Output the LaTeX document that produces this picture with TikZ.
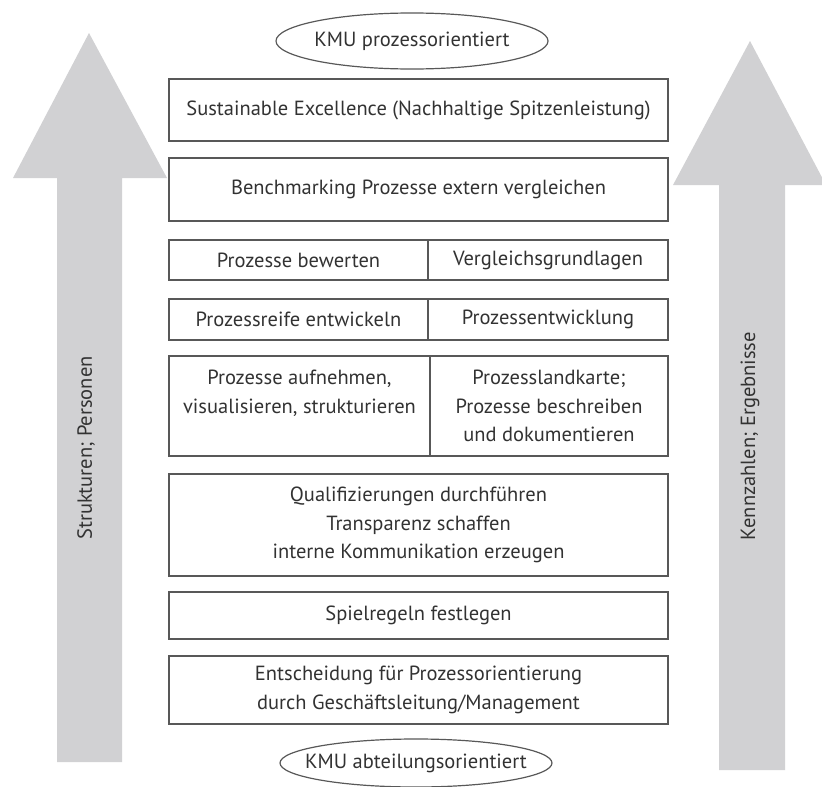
\documentclass[tikz,border=0pt]{standalone}
\usepackage{fontspec}
\setmainfont{PT Sans}
\usepackage{xcolor}
\usetikzlibrary{positioning}

\definecolor{pfeilgrau}{RGB}{209,209,211}
\definecolor{rahmengrau}{RGB}{88,88,88}
\definecolor{schriftgrau}{RGB}{50,50,50}

\begin{document}
\begin{tikzpicture}[x=1pt, y=-1pt, font=\fontsize{20.5}{28.5}\selectfont, text=schriftgrau,
    stufe/.style = {draw=rahmengrau, line width=1.6pt, inner sep=0pt, outer sep=0pt, align=center, minimum width=499pt},
    zelle/.style = {draw=rahmengrau, line width=1.6pt, inner sep=0pt, outer sep=0pt, align=center},
    kmu/.style = {draw=rahmengrau, line width=1.2pt}]
  \useasboundingbox (0,0) rectangle (822,787);

  % grosse Pfeile
  \fill[pfeilgrau] (57,762) -- (57,178) -- (13,178) -- (89,33) -- (167,178) -- (122,178) -- (122,762) -- cycle;
  \fill[pfeilgrau] (719,770) -- (719,185) -- (673,185) -- (750,41) -- (826,185) -- (785,185) -- (785,770) -- cycle;
  \node[rotate=90] (p_links) at (86,448) {Strukturen; Personen};
  \node[rotate=90] (p_rechts) at (750,436) {Kennzahlen; Ergebnisse};

  \node (kmu_oben) at (412,41) {KMU prozessorientiert};
  \draw[kmu] (kmu_oben.center) ellipse [x radius=136pt, y radius=28pt];

  \node[stufe, minimum height=62pt] (s_8) at (418.5,110) {Sustainable Excellence (Nachhaltige Spitzenleistung)};
  \node[stufe, minimum height=63pt] (s_7) at (418.5,189.5) {Benchmarking Prozesse extern vergleichen};

  \node[zelle, anchor=west, minimum width=259pt, minimum height=40pt] (s_6l) at (169,260) {Prozesse bewerten};
  \node[zelle, minimum width=240pt, minimum height=40pt] (s_6r) [right=0pt of s_6l] {Vergleichsgrundlagen};

  \node[zelle, anchor=west, minimum width=259pt, minimum height=41pt] (s_5l) at (169,319.5) {Prozessreife entwickeln};
  \node[zelle, minimum width=240pt, minimum height=41pt] (s_5r) [right=0pt of s_5l] {Prozessentwicklung};

  \node[zelle, anchor=west, minimum width=261pt, minimum height=100pt] (s_4l) at (169,406) {Prozesse aufnehmen,\\visualisieren, strukturieren\\\mbox{}};
  \node[zelle, minimum width=238pt, minimum height=100pt] (s_4r) [right=0pt of s_4l] {Prozesslandkarte;\\Prozesse beschreiben\\und dokumentieren};

  \node[stufe, minimum height=102pt] (s_3) at (418.5,525) {Qualifizierungen durchf\"uhren\\Transparenz schaffen\\interne Kommunikation erzeugen};
  \node[stufe, minimum height=47pt] (s_2) at (418.5,615.5) {Spielregeln festlegen};
  \node[stufe, minimum height=68pt] (s_1) at (418.5,690) {Entscheidung f\"ur Prozessorientierung\\durch Gesch\"aftsleitung/Management};

  \node (kmu_unten) at (416,763) {KMU abteilungsorientiert};
  \draw[kmu] (kmu_unten.center) ellipse [x radius=136pt, y radius=24pt];
\end{tikzpicture}
\end{document}
